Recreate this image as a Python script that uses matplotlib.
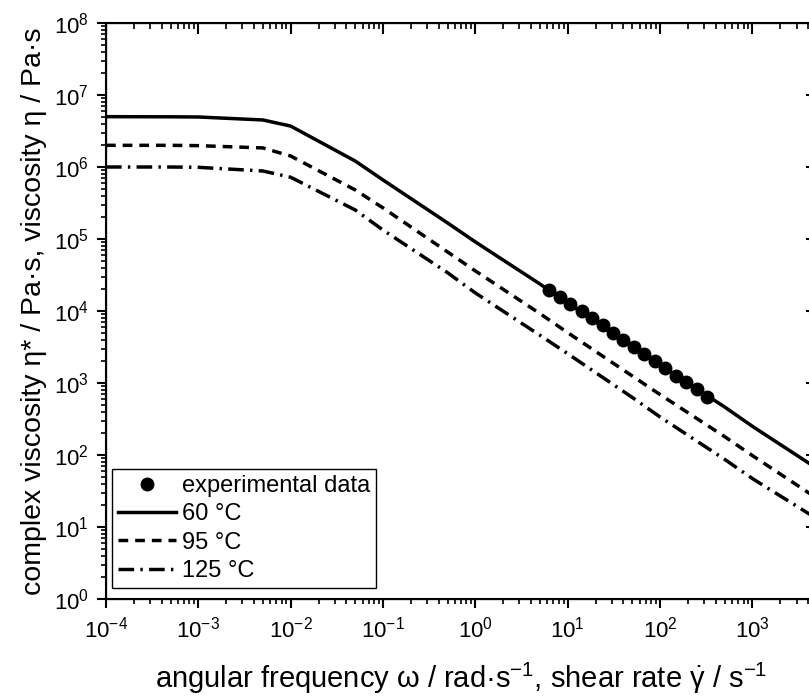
import numpy as np
import matplotlib
matplotlib.use("Agg")
import matplotlib.pyplot as plt
from matplotlib.ticker import LogLocator, NullFormatter

plt.rcParams['font.family'] = ['Liberation Sans', 'DejaVu Sans']
plt.rcParams['mathtext.fontset'] = 'custom'
plt.rcParams['mathtext.rm'] = 'Liberation Sans'
plt.rcParams['mathtext.it'] = 'Liberation Sans:italic'

# model curves
freq = [1e-4, 5e-4, 1e-3, 5e-3, 1e-2, 5e-2, 0.1, 0.5, 1, 5, 10, 50, 100, 500, 1000, 5000]
eta_60 = [5.0e6, 4.98e6, 4.95e6, 4.5e6, 3.7e6, 1.21e6, 6.6e5, 1.67e5, 9.1e4, 2.37e4,
          1.29e4, 3.2e3, 1.78e3, 4.64e2, 2.5e2, 6.5e1]
eta_95 = [2.0e6, 2.0e6, 1.98e6, 1.84e6, 1.42e6, 4.8e5, 2.7e5, 6.6e4, 3.6e4, 9.2e3,
          5.0e3, 1.25e3, 6.9e2, 1.8e2, 9.8e1, 2.5e1]
eta_125 = [1.0e6, 1.0e6, 9.9e5, 8.8e5, 7.2e5, 2.53e5, 1.33e5, 3.4e4, 1.78e4, 4.6e3,
           2.55e3, 6.3e2, 3.37e2, 8.7e1, 4.7e1, 1.3e1]

# experimental data
exp_freq = [6.22, 8.26, 10.7, 14.1, 18.3, 23.8, 30.9, 40.1, 51.8, 67.0,
            87.5, 114, 147.5, 193, 251, 322]
exp_eta = [19600, 15500, 12400, 10000, 7920, 6330, 5000, 3990, 3190, 2550,
           2020, 1600, 1260, 1020, 817, 646]

xlim = (1e-4, 5e3)
ylim = (1e0, 1e8)

fig = plt.figure(figsize=(8.09, 6.98), dpi=100)
# right edge of the frame runs slightly past the picture, as in the original
ax = fig.add_axes([106 / 809, 1 - 599 / 698, (817 - 106) / 809, (599 - 23) / 698])

ax.plot(exp_freq, exp_eta, 'o', color='black', markersize=9, label='experimental data', zorder=3)
ax.plot(freq, eta_60, color='black', linewidth=2.5, linestyle='-', label='60 °C')
ax.plot(freq, eta_95, color='black', linewidth=2.5, linestyle=(0, (2.8, 2.0)), label='95 °C')
ax.plot(freq, eta_125, color='black', linewidth=2.5, linestyle=(0, (4.5, 1.8, 0.7, 1.8)), label='125 °C')

ax.set_xscale('log')
ax.set_yscale('log')
ax.set_xlim(*xlim)
ax.set_ylim(*ylim)

for a in (ax.xaxis, ax.yaxis):
    a.set_major_locator(LogLocator(base=10, numticks=100))
    a.set_minor_locator(LogLocator(base=10, subs=np.arange(2, 10), numticks=100))
    a.set_minor_formatter(NullFormatter())

ax.tick_params(which='major', direction='out', length=6.5, width=1.5, labelsize=16, pad=6)
ax.tick_params(which='minor', direction='out', length=3.5, width=1.2)
for s in ax.spines.values():
    s.set_linewidth(1.5)

# inward ticks on top and right
axt = ax.twiny()
axt.set_xscale('log')
axt.set_xlim(*xlim)
axr = ax.twinx()
axr.set_yscale('log')
axr.set_ylim(*ylim)
for a in (axt.xaxis, axr.yaxis):
    a.set_major_locator(LogLocator(base=10, numticks=100))
    a.set_minor_locator(LogLocator(base=10, subs=np.arange(2, 10), numticks=100))
    a.set_major_formatter(NullFormatter())
    a.set_minor_formatter(NullFormatter())
for a in (axt, axr):
    a.tick_params(which='major', direction='in', length=8, width=1.5)
    a.tick_params(which='minor', direction='in', length=4, width=1.2)

ax.set_xlabel('angular frequency ω / rad·s$^{-1}$, shear rate $\\dot{\\mathrm{\\gamma}}$ / s$^{-1}$',
              fontsize=21)
ax.set_ylabel('complex viscosity η* / Pa·s, viscosity η / Pa·s', fontsize=20.5)
ax.xaxis.set_label_coords(0.5, -0.108)
ax.yaxis.set_label_coords(-0.083, 0.5)

leg = ax.legend(loc='lower left', bbox_to_anchor=(112 / 809, 1 - 588 / 698),
                bbox_transform=fig.transFigure, borderaxespad=0, fontsize=17,
                frameon=True, fancybox=False, edgecolor='black', framealpha=1,
                handlelength=2.45, handletextpad=0.25, labelspacing=0.27,
                borderpad=0.25, numpoints=1)
leg.get_frame().set_linewidth(1.0)

fig.savefig('out.png', dpi=100)
